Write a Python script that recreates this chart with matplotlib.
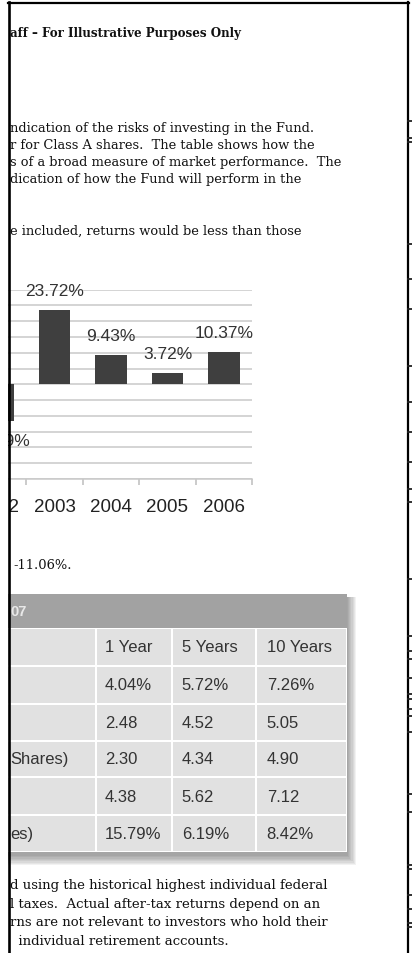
import matplotlib
matplotlib.use("Agg")
import matplotlib.pyplot as plt
from matplotlib.patches import Rectangle
import numpy as np

# bar chart data (only the visible part of the page)
years = ['2002', '2003', '2004', '2005', '2006']
returns = [-11.49, 23.72, 9.43, 3.72, 10.37]

# performance table
tableCols = ['1 Year', '5 Years', '10 Years']
rowLabels = ['', '', '', 'Shares)', '', 'es)']
oneYear = ['4.04%', '2.48', '2.30', '4.38', '15.79%']
fiveYears = ['5.72%', '4.52', '4.34', '5.62', '6.19%']
tenYears = ['7.26%', '5.05', '4.90', '7.12', '8.42%']

# text lines of the page as far as they show inside the crop
headerLine = 'aff \u2013 For Illustrative Purposes Only'
introLines = ['ndication of the risks of investing in the Fund.',
              'r for Class A shares.  The table shows how the',
              's of a broad measure of market performance.  The',
              'dication of how the Fund will perform in the',
              '',
              '',
              'e included, returns would be less than those']
quarterLine = '-11.06%.'
footLines = ['d using the historical highest individual federal',
             'l taxes.  Actual after-tax returns depend on an',
             'rns are not relevant to investors who hold their',
             '  individual retirement accounts.']

W, H = 412, 954
fig = plt.figure(figsize=(W / 100, H / 100), dpi=100)
fig.patch.set_facecolor('white')

# page layer in pixel coordinates
page = fig.add_axes([0, 0, 1, 1])
page.set_xlim(0, W)
page.set_ylim(H, 0)
page.axis('off')

serif = 'DejaVu Serif'
sans = 'Liberation Sans'

page.text(10, 33, headerLine, fontsize=8.6, fontweight='bold', family=serif, va='center', ha='left', color='#111')
for i, line in enumerate(introLines):
    page.text(10, 128.5 + i * 17.1, line, fontsize=9.4, family=serif, va='center', ha='left', color='#111')
page.text(13, 566, quarterLine, fontsize=9.4, family=serif, va='center', ha='left', color='#111')
for i, line in enumerate(footLines):
    page.text(10, 886 + i * 18.5, line, fontsize=9.5, family=serif, va='center', ha='left', color='#111')

# bar chart, extends past the left edge of the page crop
spacing = 56.5
axLeft = 224 - 4.5 * spacing
ax = fig.add_axes([axLeft / W, (H - 480) / H, 5 * spacing / W, (480 - 290.7) / H])
x = np.arange(len(years))
ax.bar(x, returns, width=0.55, color='#3f3f3f', zorder=3)
ax.set_xlim(-0.5, 4.5)
ax.set_ylim(-30, 30)
ax.set_yticks(np.arange(-30, 31, 5))
ax.yaxis.grid(True, color='#c9c9c9', linewidth=1.1)
ax.tick_params(axis='y', left=False, labelleft=False)
ax.set_xticks(x)
ax.set_xticklabels(years, fontsize=13.5, family=sans, color='#222')
ax.tick_params(axis='x', length=0, pad=14)
ax.set_xticks(x + 0.5, minor=True)
ax.tick_params(axis='x', which='minor', length=4, color='#bdbdbd', width=1.1)
for side in ['top', 'left', 'right']:
    ax.spines[side].set_visible(False)
ax.spines['bottom'].set_color('#c9c9c9')
ax.spines['bottom'].set_linewidth(1.1)
ax.set_facecolor('none')
for xi, v in zip(x, returns):
    off = 14 if v > 0 else -14
    ax.annotate('%.2f%%' % v, (xi, v), xytext=(0, off), textcoords='offset points',
                ha='center', va='center', fontsize=12.5, family=sans, color='#333', zorder=4)

# table with drop shadow
colEdges = [-40, 95.7, 171.7, 256, 346.7]
rowEdges = [628.5, 667, 705, 741.7, 778.3, 816, 852.7]
tableTop = 595
for k in range(8, 0, -1):
    page.add_patch(Rectangle((colEdges[0], tableTop + 3), colEdges[-1] - colEdges[0] + k * 1.2, rowEdges[-1] - tableTop + k * 1.3,
                             facecolor='black', alpha=0.05, edgecolor='none', zorder=1))
page.add_patch(Rectangle((colEdges[0], tableTop), colEdges[-1] - colEdges[0], rowEdges[0] - tableTop,
                         facecolor='#a2a2a2', edgecolor='none', zorder=2))
page.text(10, 612, '07', fontsize=10.5, fontweight='bold', family=sans, color='#e8e8e8', ha='left', va='center', zorder=3)
page.add_patch(Rectangle((colEdges[0], rowEdges[0]), colEdges[-1] - colEdges[0], rowEdges[-1] - rowEdges[0],
                         facecolor='white', edgecolor='none', zorder=2))
for r in range(len(rowEdges) - 1):
    for c in range(len(colEdges) - 1):
        page.add_patch(Rectangle((colEdges[c] + 1, rowEdges[r] + 1), colEdges[c + 1] - colEdges[c] - 2,
                                 rowEdges[r + 1] - rowEdges[r] - 2, facecolor='#e1e1e1', edgecolor='none', zorder=2))

colText = [105, 181.7, 266.7]
cells = [tableCols] + [list(t) for t in zip(oneYear, fiveYears, tenYears)]
for r, rowVals in enumerate(cells):
    yc = (rowEdges[r] + rowEdges[r + 1]) / 2
    for c, val in enumerate(rowVals):
        page.text(colText[c], yc, val, fontsize=12, family=sans, color='#333', va='center', ha='left', zorder=3)
    if rowLabels[r]:
        page.text(10, yc, rowLabels[r], fontsize=12, family=sans, color='#333', va='center', ha='left', zorder=3)

# crop frame of the scanned page
frame = fig.add_axes([0, 0, 1, 1], zorder=10)
frame.set_xlim(0, W)
frame.set_ylim(H, 0)
frame.axis('off')
frame.patch.set_alpha(0)
frame.add_patch(Rectangle((0, 0), 8.5, H, facecolor='white', edgecolor='none'))
frame.add_patch(Rectangle((409, 0), 3, H, facecolor='white', edgecolor='none'))
frame.plot([8.7, 8.7], [2.5, H], color='black', lw=1.9)
frame.plot([7.8, 409.2], [3.6, 3.6], color='black', lw=1.6)
frame.plot([408.4, 408.4], [2.8, H], color='black', lw=1.6)
# bits of the next column poking in on the right
edgeMarks = [121.7, 139, 143, 245, 280, 310, 367, 403, 433, 463, 490, 503, 580, 637, 652, 660,
             679, 695, 700, 710, 717, 733, 795, 813, 866, 870, 896, 910, 924, 928]
for ym in edgeMarks:
    frame.plot([408.4, 412], [ym, ym], color='#222', lw=1.3)

fig.savefig('out.png', dpi=100)
